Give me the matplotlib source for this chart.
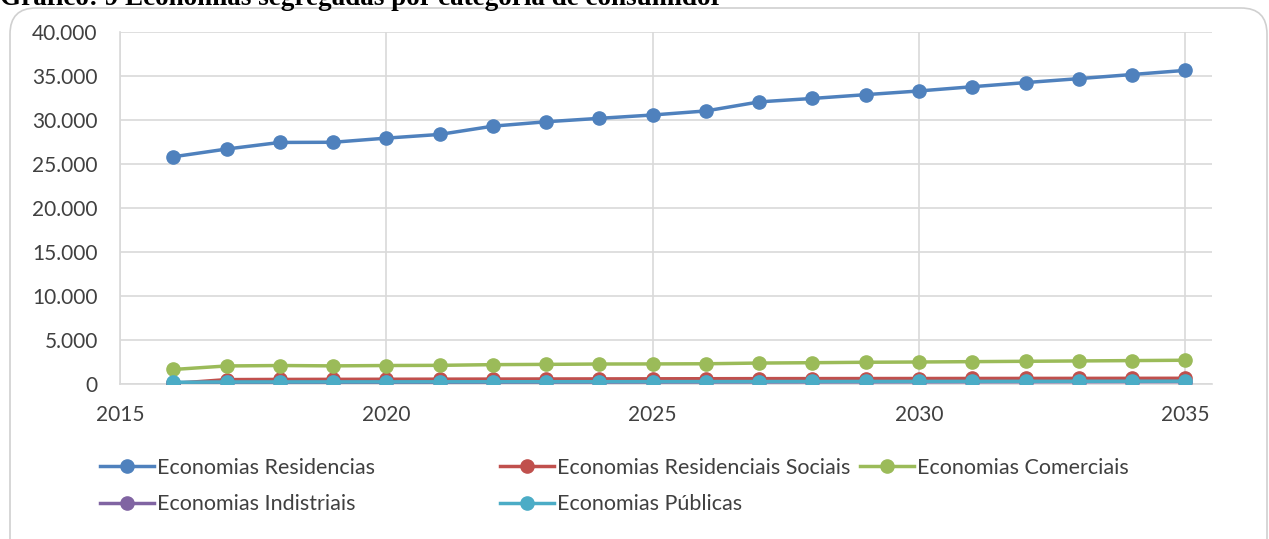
import matplotlib.pyplot as plt
from matplotlib.patches import FancyBboxPatch
from matplotlib.transforms import IdentityTransform
from matplotlib.ticker import FuncFormatter

years = list(range(2016, 2036))
residencias = [25820, 26700, 27450, 27470, 27940, 28360, 29300, 29800, 30190, 30570,
               31030, 32060, 32450, 32880, 33300, 33780, 34250, 34700, 35170, 35640]
sociais = [60, 500, 520, 530, 540, 550, 560, 570, 580, 590,
           600, 610, 615, 620, 625, 630, 635, 640, 645, 650]
comerciais = [1650, 2050, 2100, 2060, 2100, 2120, 2200, 2230, 2270, 2280,
              2300, 2380, 2420, 2470, 2500, 2540, 2580, 2620, 2660, 2700]
industriais = [150, 180, 185, 190, 195, 200, 205, 210, 215, 220,
               225, 230, 235, 240, 245, 250, 255, 260, 265, 270]
publicas = [200, 230, 235, 240, 245, 250, 255, 260, 265, 270,
            275, 280, 285, 290, 295, 300, 305, 310, 315, 320]

series = [
    ('Economias Residencias', residencias, '#4F81BD'),
    ('Economias Residenciais Sociais', sociais, '#C0504D'),
    ('Economias Comerciais', comerciais, '#9BBB59'),
    ('Economias Indistriais', industriais, '#8064A2'),
    ('Economias Públicas', publicas, '#4BACC6'),
]

plt.rcParams['font.family'] = ['Lato', 'DejaVu Sans']
W, H = 1269, 539
fig = plt.figure(figsize=(W / 100, H / 100), dpi=100)

# rounded frame of the chart area (pixel coords, origin bottom-left)
frame = FancyBboxPatch((10, -40), 1257, H - 8 + 40,
                       boxstyle='round,pad=0,rounding_size=26', transform=IdentityTransform(),
                       facecolor='none', edgecolor='#D0D0D0', linewidth=1.2, zorder=-1)
fig.patches.append(frame)

fig.text(0.0, 1 - 5 / H, 'Gráfico: 9 Economias segregadas por categoria de consumidor',
         family='Liberation Serif', fontweight='bold', fontsize=19.5, va='baseline', ha='left')

ax = fig.add_axes([120 / W, 1 - 384 / H, (1212 - 120) / W, (384 - 32) / H])
ax.set_facecolor('none')

lines = []
for name, vals, col in series:
    ln, = ax.plot(years, vals, color=col, lw=2.5, marker='o', ms=9.5, label=name, zorder=3)
    lines.append(ln)

ax.set_xlim(2015, 2035.5)
ax.set_ylim(0, 40000)
ax.set_xticks([2015, 2020, 2025, 2030, 2035])
ax.set_yticks(range(0, 40001, 5000))
ax.yaxis.set_major_formatter(FuncFormatter(lambda v, p: f'{int(v):,}'.replace(',', '.')))
ax.grid(True, color='#D9D9D9', lw=1.2)
ax.set_axisbelow(True)
for s in ['top', 'right']:
    ax.spines[s].set_visible(False)
for s in ['left', 'bottom']:
    ax.spines[s].set_color('#D9D9D9')
    ax.spines[s].set_linewidth(1.2)
ax.tick_params(length=0, labelsize=15, colors='#404040')
ax.tick_params(axis='y', pad=16)
ax.tick_params(axis='x', pad=15)

# legend laid out in three columns, each at its own spot
columns = [([lines[0], lines[3]], 100), ([lines[1], lines[4]], 500), ([lines[2]], 860)]
for hs, x0 in columns:
    fig.legend(handles=hs, loc='upper left', bbox_to_anchor=(x0 / W, 1 - 458 / H),
               frameon=False, fontsize=15.5, labelcolor='#404040', handlelength=2.5,
               handletextpad=0.15, labelspacing=0.75, borderpad=0, borderaxespad=0)

fig.savefig('out.png', dpi=100)
